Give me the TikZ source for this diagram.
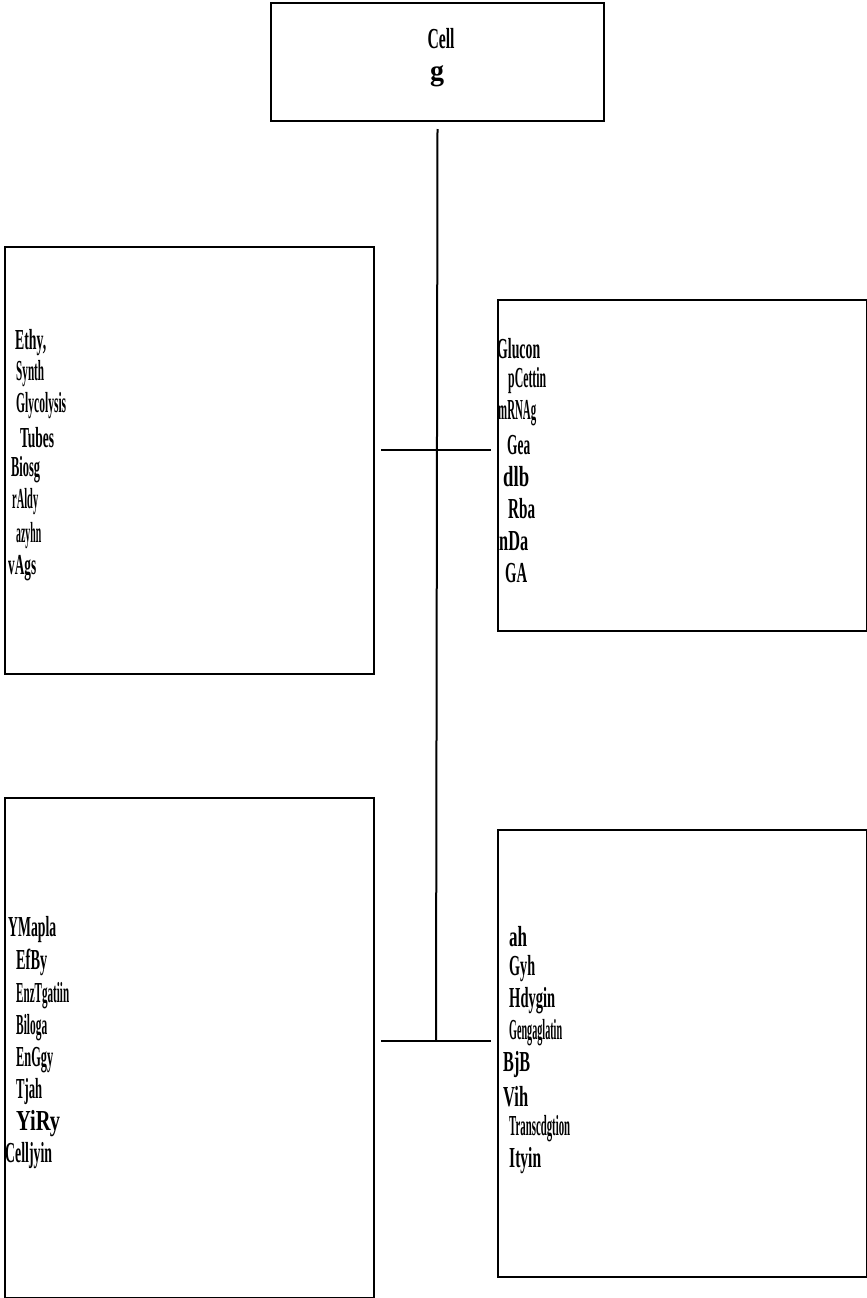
\documentclass[tikz,border=0pt]{standalone}
\usepackage{fontspec}
\setmainfont{Liberation Serif}
\usepackage{graphicx}
\newcommand{\sqw}[2]{\resizebox{#1pt}{\height}{#2}}
\begin{document}
\begin{tikzpicture}[x=1pt,y=-1pt,
  box/.style={draw, line width=2pt, inner sep=0pt},
  lbl/.style={anchor=west, inner sep=0pt, font=\fontsize{29}{29}\selectfont\bfseries},
  clbl/.style={anchor=center, inner sep=0pt, font=\fontsize{29}{29}\selectfont\bfseries},
  link/.style={line width=2pt}]
\useasboundingbox (0,0) rectangle (867,1298);
% boxes
\node[box, anchor=north west, minimum width=333pt, minimum height=118pt] (top) at (270,2) {};
\node[box, anchor=north west, minimum width=369pt, minimum height=427pt] (L1) at (4,246) {};
\node[box, anchor=north west, minimum width=369pt, minimum height=331pt] (R1) at (497,299) {};
\node[box, anchor=north west, minimum width=369pt, minimum height=500pt] (L2) at (4,797) {};
\node[box, anchor=north west, minimum width=369pt, minimum height=447pt] (R2) at (497,829) {};
% junctions
\coordinate (j1) at (436,450);
\coordinate (j2) at (436,1041);
% connectors
\draw[link] ([yshift=-7pt]top.south) -- (j2);
\draw[link] ([xshift=6pt]L1.east |- j1) -- ([xshift=-6pt]R1.west |- j1);
\draw[link] ([xshift=6pt]L2.east |- j2) -- ([xshift=-6pt]R2.west |- j2);
% top text
\node[clbl] (t1) at (441,39) {\sqw{27}{Cell}};
\node[clbl] (t2) at (437,76) {\sqw{14}{g}};
% left box 1
\node[lbl] (a1) at (15,343) {\sqw{31}{Ethy,}};
\node[lbl] (a2) at (16,374) {\sqw{28}{Synth}};
\node[lbl] (a3) at (16,406) {\sqw{50}{Glycolysis}};
\node[lbl] (a4) at (20,438) {\sqw{34}{Tubes}};
\node[lbl] (a5) at (11,470) {\sqw{29}{Biosg}};
\node[lbl] (a6) at (12,502) {\sqw{26}{rAldy}};
\node[lbl] (a7) at (16,536) {\sqw{25}{azyhn}};
\node[lbl] (a8) at (8,568) {\sqw{28}{vAgs}};
% right box 1
\node[lbl] (b1) at (497,349) {\sqw{43}{Glucon}};
\node[lbl] (b2) at (508,381) {\sqw{38}{pCettin}};
\node[lbl] (b3) at (498,413) {\sqw{38}{mRNAg}};
\node[lbl] (b4) at (507,445) {\sqw{23}{Gea}};
\node[lbl] (b5) at (503,477) {\sqw{26}{dlb}};
\node[lbl] (b6) at (508,509) {\sqw{27}{Rba}};
\node[lbl] (b7) at (499,541) {\sqw{29}{nDa}};
\node[lbl] (b8) at (505,573) {\sqw{22}{GA}};
% left box 2
\node[lbl] (c1) at (8,930) {\sqw{48}{YMapla}};
\node[lbl] (c2) at (16,962) {\sqw{31}{EfBy}};
\node[lbl] (c3) at (16,996) {\sqw{53}{EnzTgatiin}};
\node[lbl] (c4) at (16,1028) {\sqw{31}{Biloga}};
\node[lbl] (c5) at (16,1060) {\sqw{37}{EnGgy}};
\node[lbl] (c6) at (16,1092) {\sqw{26}{Tjah}};
\node[lbl] (c7) at (16,1124) {\sqw{44}{YiRy}};
\node[lbl] (c8) at (5,1156) {\sqw{47}{Celljyin}};
% right box 2
\node[lbl] (d1) at (509,937) {\sqw{18}{ah}};
\node[lbl] (d2) at (509,969) {\sqw{26}{Gyh}};
\node[lbl] (d3) at (509,1001) {\sqw{46}{Hdygin}};
\node[lbl] (d4) at (509,1033) {\sqw{53}{Gengaglatin}};
\node[lbl] (d5) at (503,1065) {\sqw{27}{BjB}};
\node[lbl] (d6) at (503,1097) {\sqw{25}{Vih}};
\node[lbl] (d7) at (509,1129) {\sqw{61}{Transcdgtion}};
\node[lbl] (d8) at (509,1161) {\sqw{32}{Ityin}};
\end{tikzpicture}
\end{document}
